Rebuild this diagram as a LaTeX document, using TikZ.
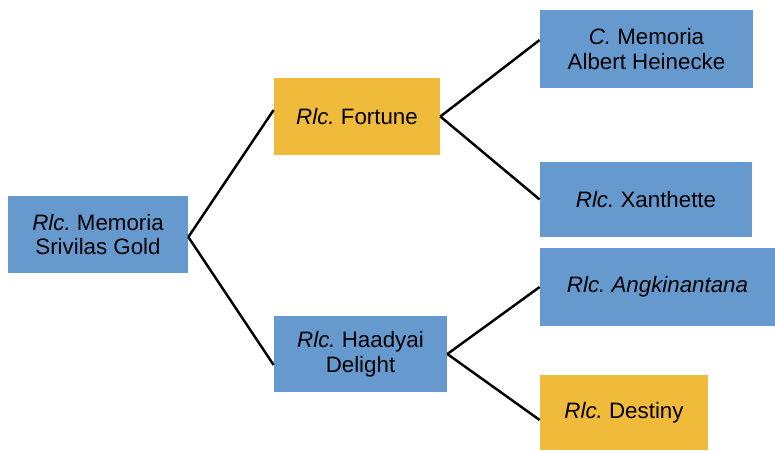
\documentclass[tikz,border=0pt]{standalone}
\usepackage{fontspec}
\setmainfont{Liberation Sans}
\usepackage{xcolor}
\usetikzlibrary{positioning}
\definecolor{cultblue}{RGB}{102,153,206}
\definecolor{cultgold}{RGB}{240,186,58}
\newcommand{\rlc}{\textit{Rlc.}}
\frenchspacing

\begin{document}
\begin{tikzpicture}[
    box/.style={inner sep=0pt, minimum height=1.54cm, align=center,
                font=\fontsize{12.7}{14.2}\selectfont},
    bluebox/.style={box, fill=cultblue},
    goldbox/.style={box, fill=cultgold},
    link/.style={line width=1.4pt, black},
  ]
  \useasboundingbox (0,0) rectangle (15.5,-9);

  % -- Parent --
  \node[bluebox, minimum width=3.6cm] at (1.96, -4.69) (memoria)
    {\rlc{} Memoria\\Srivilas Gold};

  % -- First generation --
  \node[goldbox, minimum width=3.32cm] at (7.14, -2.33) (fortune)
    {\rlc{} Fortune};
  \node[bluebox, minimum width=3.46cm, minimum height=1.52cm]
    at (7.21, -7.08) (haadyai)
    {\rlc{} Haadyai\\Delight};

  % -- Second generation --
  \node[bluebox, minimum width=4.26cm, minimum height=1.56cm]
    at (12.93, -0.98) (heinecke)
    {\textit{C.} Memoria\\Albert Heinecke};
  \node[bluebox, minimum width=4.24cm, minimum height=1.5cm]
    at (12.92, -3.99) (xanthette)
    {\rlc{} Xanthette};
  \node[bluebox, minimum width=4.7cm, minimum height=1.56cm]
    at (13.15, -5.74) (angkin)
    {\textit{Rlc. Angkinantana}};
  \node[goldbox, minimum width=3.36cm, minimum height=1.5cm]
    at (12.48, -8.25) (destiny)
    {\rlc{} Destiny};

  % -- Links --
  \draw[link] ([yshift=-0.05cm]memoria.east) -- ([yshift=0.13cm]fortune.west);
  \draw[link] ([yshift=-0.05cm]memoria.east) -- ([yshift=-0.22cm]haadyai.west);

  \draw[link] (fortune.east) -- ([yshift=0.18cm]heinecke.west);
  \draw[link] (fortune.east) -- (xanthette.west);

  \draw[link] (haadyai.east) -- (angkin.west);
  \draw[link] (haadyai.east) -- ([yshift=-0.15cm]destiny.west);

\end{tikzpicture}
\end{document}
